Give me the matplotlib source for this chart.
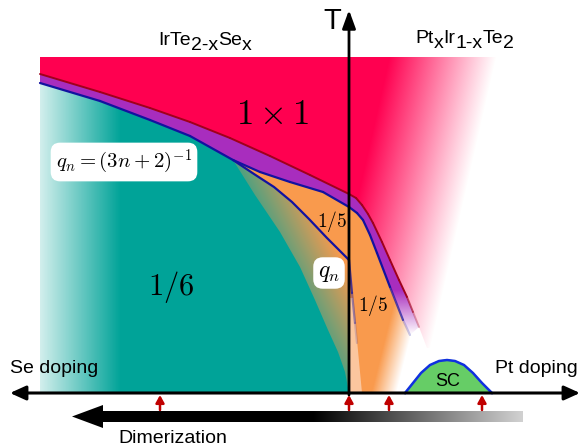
import numpy as np
import matplotlib

matplotlib.use("Agg")

import matplotlib.pyplot as plt
from matplotlib.collections import LineCollection
from matplotlib.colors import to_rgb
from matplotlib.patches import FancyArrow, FancyArrowPatch, Polygon

plt.rcParams["font.family"] = ["Liberation Sans", "DejaVu Sans"]

# doping axis: x < 0 is Se content, x > 0 is Pt content; T in arbitrary units
cdw_x = [-3.09, -2.49, -1.99, -1.59, -1.19, -0.79, -0.39, 0.00, 0.07, 0.13, 0.19, 0.24, 0.33, 0.41, 0.50, 0.58, 0.64, 0.70]
cdw_T = [3.19, 3.01, 2.85, 2.71, 2.55, 2.37, 2.18, 1.99, 1.95, 1.88, 1.79, 1.70, 1.51, 1.33, 1.13, 0.96, 0.81, 0.66]

# lower edge of the purple band (q_n phases)
qn_x = [-3.09, -2.49, -1.99, -1.59, -1.16, -0.89, -0.59, -0.26, 0.00, 0.08, 0.14, 0.21, 0.28, 0.41, 0.54, 0.61]
qn_T = [3.10, 2.92, 2.73, 2.57, 2.33, 2.21, 2.11, 2.01, 1.86, 1.80, 1.73, 1.58, 1.40, 1.06, 0.73, 0.58]

# 1/5 boundary and its faint continuation on the Pt side
fifth_x = [-1.16, -0.95, -0.75, -0.57, -0.40, -0.22, 0.00]
fifth_T = [2.33, 2.19, 2.06, 1.91, 1.74, 1.55, 1.33]
fifth_tail_x = [0.00, 0.03, 0.06, 0.08]
fifth_tail_T = [1.33, 1.00, 0.70, 0.50]

# edge of the 1/6 phase
sixth_x = [-1.16, -0.94, -0.69, -0.49, -0.34, -0.21, -0.11, -0.04, 0.00]
sixth_T = [2.33, 1.98, 1.61, 1.26, 0.93, 0.63, 0.41, 0.21, 0.00]

# superconducting dome
sc_x = [0.56, 0.64, 0.72, 0.81, 0.90, 0.98, 1.06, 1.15, 1.24, 1.33, 1.43]
sc_T = [0.00, 0.10, 0.20, 0.28, 0.32, 0.33, 0.32, 0.28, 0.20, 0.10, 0.00]

x_left = -3.09
t_top = 3.36
sample_x = [-1.89, 0.00, 0.40, 1.33]

RED = "#FF0050"
PURPLE = "#A82DBE"
TEAL = "#00A398"
ORANGE = "#F99A4D"
PEACH = "#FCD6BA"
LINE_BLUE = "#1212A0"
LINE_RED = "#A0001A"
GREEN = "#66CD66"

EXTENT = (-3.49, 2.33, -0.55, 3.93)

fig = plt.figure(figsize=(5.82, 4.48), dpi=100)
ax = fig.add_axes([0, 0, 1, 1])

X, Y = np.meshgrid(np.linspace(EXTENT[0], EXTENT[1], 582), np.linspace(EXTENT[2], EXTENT[3], 448))


def layer(rgb, alpha, xs, ys, z):
    img = np.zeros(X.shape + (4,))
    img[..., :3] = rgb
    img[..., 3] = alpha
    patch = Polygon(np.column_stack([xs, ys]), closed=True, fc="none", ec="none")
    ax.add_patch(patch)
    im = ax.imshow(img, extent=EXTENT, origin="lower", aspect="auto", interpolation="bilinear", zorder=z)
    im.set_clip_path(patch)


def faded_line(xs, ys, color, lw, t_hi, t_lo, z):
    pts = np.column_stack([xs, ys])
    segs = np.stack([pts[:-1], pts[1:]], axis=1)
    mid = (pts[:-1, 1] + pts[1:, 1]) / 2
    a = np.clip((mid - t_lo) / (t_hi - t_lo), 0, 1)
    cols = [(*to_rgb(color), ai) for ai in a]
    ax.add_collection(LineCollection(segs, colors=cols, linewidths=lw, capstyle="round", joinstyle="round", zorder=z))


# 1x1 phase, fading out towards high Pt content
u = X - 0.227 * (Y - t_top)
red_alpha = np.clip(1 - (u - 0.41) / 1.07, 0, 1)
layer(np.array(to_rgb(RED)), red_alpha,
      [x_left, 1.7, 1.7, 0.78] + cdw_x[::-1],
      [t_top, t_top, 0.45, 0.45] + cdw_T[::-1], 1)

# 1/6 phase, fading out towards high Se content (runs under the crossover region)
teal_alpha = np.clip(0.18 + 0.82 * (X - x_left) / 0.80, 0, 1)
layer(np.array(to_rgb(TEAL)), teal_alpha,
      [x_left] + qn_x[:5] + fifth_x[1:] + [0.0],
      [0.0] + qn_T[:5] + fifth_T[1:] + [0.0], 1)

# crossover between 1/6 and the q_n phases
s = X * 0.895 + Y * 0.446
f = (0.3 + 0.7 * np.clip(s / 0.55, 0, 1))[..., None]
mix = np.array(to_rgb(TEAL)) * (1 - f) + np.array(to_rgb(ORANGE)) * f
layer(mix, np.ones(X.shape),
      fifth_x + [0.0] + sixth_x[::-1],
      fifth_T + [0.0] + sixth_T[::-1], 2)

# 1/5 phase
v = X + 0.25 * (0.93 - Y)
orange_alpha = np.clip(1 - (v - 0.46) / 0.25, 0, 1)
layer(np.array(to_rgb(ORANGE)), orange_alpha,
      qn_x[4:] + [0.68, 0.0] + fifth_x[::-1],
      qn_T[4:] + [0.0, 0.0] + fifth_T[::-1], 2)
ax.add_patch(Polygon(np.column_stack([[0.01, 0.04, 0.13, 0.01], [0.95, 0.95, 0.0, 0.0]]),
                     closed=True, fc=PEACH, ec="none", alpha=0.75, zorder=3))

# purple band between T_c and the q_n boundary
purple_alpha = np.clip((Y - 0.58) / 0.45, 0, 1)
layer(np.array(to_rgb(PURPLE)), purple_alpha, cdw_x + qn_x[::-1], cdw_T + qn_T[::-1], 3)

faded_line(cdw_x, cdw_T, LINE_RED, 1.4, 1.05, 0.6, 4)
faded_line(qn_x, qn_T, LINE_BLUE, 1.6, 1.05, 0.55, 4)
ax.plot(fifth_x, fifth_T, color=LINE_BLUE, lw=1.6, solid_capstyle="round", zorder=4)
faded_line(fifth_tail_x, fifth_tail_T, LINE_BLUE, 1.6, 1.4, 0.45, 4)

# superconducting dome
ax.fill(sc_x, sc_T, color=GREEN, zorder=5)
ax.plot(sc_x, sc_T, color="#1030E0", lw=1.8, zorder=5)
ax.text(0.99, 0.12, "SC", fontsize=13, ha="center", va="center", zorder=8)

# axes
ax.add_patch(FancyArrowPatch((-3.39, 0), (2.31, 0), arrowstyle="<|-|>,head_length=0.95,head_width=0.43",
                             mutation_scale=10, lw=2.2, color="black", shrinkA=0, shrinkB=0, zorder=6))
ax.add_patch(FancyArrowPatch((0, -0.02), (0, 3.83), arrowstyle="-|>,head_length=1.1,head_width=0.4",
                             mutation_scale=10, lw=2.0, color="black", shrinkA=0, shrinkB=0, zorder=6))
ax.text(-0.17, 3.64, "T", fontsize=21, ha="center", va="baseline")

for sx in sample_x:
    ax.add_patch(FancyArrowPatch((sx, -0.17), (sx, -0.02), arrowstyle="-|>,head_length=0.45,head_width=0.25",
                                 mutation_scale=10, lw=1.8, color="#C00000", shrinkA=0, shrinkB=0, zorder=7))

# dimerization arrow, black fading to grey
bar = FancyArrow(1.74, -0.235, -4.51, 0, width=0.11, head_width=0.23, head_length=0.31,
                 length_includes_head=True, fc="none", ec="none")
ax.add_patch(bar)
g = (np.clip((X + 0.36) / 2.10, 0, 1) * 0.82)[..., None]
img = np.concatenate([np.repeat(g, 3, axis=2), np.ones(X.shape)[..., None]], axis=2)
im = ax.imshow(img, extent=EXTENT, origin="lower", aspect="auto", interpolation="bilinear", zorder=6)
im.set_clip_path(bar)

ax.text(-3.39, 0.20, "Se doping", fontsize=14, ha="left", va="baseline", zorder=8)
ax.text(2.29, 0.20, "Pt doping", fontsize=14, ha="right", va="baseline", zorder=8)
ax.text(-2.31, -0.50, "Dimerization", fontsize=14, ha="left", va="baseline", zorder=8)


def formula(x, y, pieces, size=14):
    prev = ax.text(x, y, pieces[0][0], fontsize=size, ha="left", va="baseline", zorder=8)
    level = pieces[0][1]
    for txt, lvl in pieces[1:]:
        prev = ax.annotate(txt, xy=(1, 0), xycoords=prev, xytext=(0, (level - lvl) * 3.6),
                           textcoords="offset points", fontsize=size, ha="left", va="bottom", zorder=8)
        level = lvl


formula(-1.91, 3.48, [("IrTe", 0), ("2-x", 1), ("Se", 0), ("x", 1)])
formula(0.66, 3.50, [("Pt", 0), ("x", 1), ("Ir", 0), ("1-x", 1), ("Te", 0), ("2", 1)])

box = dict(boxstyle="round,pad=0.25,rounding_size=0.45", fc="white", ec="none")
ax.text(-0.76, 2.79, r"$1\times1$", fontsize=25, math_fontfamily="cm", ha="center", va="center", zorder=8)
ax.text(-1.78, 1.06, r"$1/6$", fontsize=22, math_fontfamily="cm", ha="center", va="center", zorder=8)
ax.text(-2.25, 2.31, r"$q_n=(3n+2)^{-1}$", fontsize=15, math_fontfamily="cm", ha="center", va="center",
        bbox=box, zorder=8)
ax.text(-0.17, 1.72, r"$1/5$", fontsize=14, math_fontfamily="cm", ha="center", va="center", zorder=8)
ax.text(0.24, 0.88, r"$1/5$", fontsize=14, math_fontfamily="cm", ha="center", va="center", zorder=8)
ax.text(-0.20, 1.20, r"$q_n$", fontsize=17, math_fontfamily="cm", ha="center", va="center",
        bbox=dict(boxstyle="round,pad=0.2,rounding_size=0.4", fc="white", ec="none"), zorder=8)

ax.set_xlim(EXTENT[0], EXTENT[1])
ax.set_ylim(EXTENT[2], EXTENT[3])
ax.axis("off")
fig.savefig("out.png", dpi=100)
plt.close(fig)
